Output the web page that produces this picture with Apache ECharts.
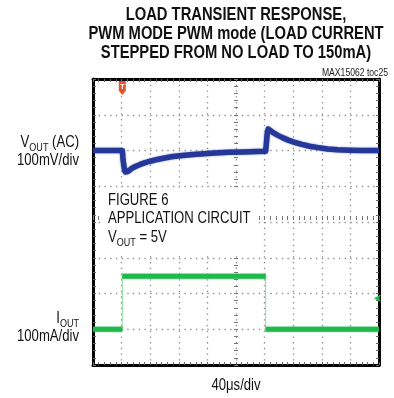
<!DOCTYPE html>
<html>
<head>
<meta charset="utf-8">
<script src="https://cdn.jsdelivr.net/npm/echarts@6/dist/echarts.min.js"></script>
<style>
  html, body { margin: 0; padding: 0; background: #fff; }
  #chart { width: 394px; height: 398px; }
</style>
</head>
<body>
<div id="chart"></div>
<script>
// Time base: 40 us/div, 10 divisions
var timeMin = 0, timeMax = 400, timeStep = 40;

// VOUT (AC coupled), mV vs us
var voutTime = [0, 41, 42, 43.5, 45, 46.5, 48.5, 51, 55, 60, 66, 73, 80, 90, 100, 112, 125, 140, 155, 170, 190, 210, 230, 241.5,
                242.5, 243.5, 245, 248, 252, 258, 265, 273, 282, 292, 303, 315, 328, 342, 358, 375, 400];
var voutMv   = [0, 0, -25, -48, -60, -62, -59, -54, -49, -44, -39, -34, -30, -25, -21, -17, -14, -11, -9, -7, -5, -4, -3, -2,
                20, 45, 60, 56, 50, 43, 36, 29, 23, 17, 12, 8, 4, 2, 1, 0, 0];

// IOUT, mA vs us (load stepped 0 -> 150 mA -> 0)
var ioutTime = [0, 41, 41, 241.5, 241.5, 400];
var ioutMa   = [0, 0, 148, 148, 0, 0];

// Trigger position and IOUT trigger level
var triggerTime = 41;
var ioutTriggerLevel = 87;

// Channel scales (per division) and vertical ranges
var voutRange = [-600, 200];   // 100 mV/div, trace 2 div above center
var ioutRange = [-100, 700];   // 100 mA/div, ground 3 div below center

var titleLines = ['LOAD TRANSIENT RESPONSE,', 'PWM MODE PWM mode (LOAD CURRENT', 'STEPPED FROM NO LOAD TO 150mA)'];

var BLUE = '#25389a';
var GREEN = '#1fb84a';
var GREEN_EDGE = '#8fdc9e';
var FONT = '"Liberation Sans", Arial, sans-serif';
var NARROW_SCALE = 0.82;   // condensed lettering

function pairs(xs, ys) {
  return xs.map(function (x, i) { return [x, ys[i]]; });
}
// Thick band drawn only on the flat levels; the vertical steps stay thin
function levelsOnly(xs, ys) {
  var out = [];
  for (var i = 0; i < xs.length; i++) {
    if (i > 0 && xs[i] === xs[i - 1]) out.push(null);
    out.push([xs[i], ys[i]]);
  }
  return out;
}

var dotted = { color: '#8a8a8a', width: 1.3, type: [1.3, 4.42] };

function frameAxis(extra) {
  return Object.assign({
    type: 'value',
    axisLine: { show: true, onZero: false, lineStyle: { color: '#000', width: 3 } },
    axisTick: { show: true, inside: true, length: 3, lineStyle: { color: '#666', width: 1 } },
    minorTick: { show: true, splitNumber: 5, length: 3, lineStyle: { color: '#666', width: 1 } },
    axisLabel: { show: false },
    splitLine: { show: false }
  }, extra);
}
// Centre graticule lines carry small cross ticks
function centreAxis(extra) {
  return Object.assign({
    type: 'value',
    axisLine: { show: false },
    axisTick: { show: true, inside: true, length: 4, lineStyle: { color: '#777', width: 1 } },
    minorTick: { show: true, splitNumber: 5, length: 4, lineStyle: { color: '#777', width: 1 } },
    axisLabel: { show: false },
    splitLine: { show: false }
  }, extra);
}

var chart = echarts.init(document.getElementById('chart'), null, { renderer: 'canvas' });

var graphics = [];
function text(x, y, str, font, align, extraStyle) {
  graphics.push({
    type: 'text', x: x, y: y, z: 100, scaleX: NARROW_SCALE,
    style: Object.assign({ text: str, fill: '#111', font: font, textAlign: align, textVerticalAlign: 'middle' }, extraStyle || {})
  });
}
titleLines.forEach(function (t, i) {
  text(236, 15 + i * 19, t, 'bold 18px ' + FONT, 'center');
});
text(388, 73, 'MAX15062 toc25', '10.5px ' + FONT, 'right', { fill: '#222' });

var rich = {
  n: { font: '16px ' + FONT, fill: '#111', lineHeight: 20, verticalAlign: 'middle' },
  s: { font: '11px ' + FONT, fill: '#111', lineHeight: 12, verticalAlign: 'bottom' }
};
function label(x, y, str, align) {
  text(x, y, str, '16px ' + FONT, align, { rich: rich });
}
label(79, 143, '{n|V}{s|OUT}{n| (AC)}', 'right');
label(79, 161, '{n|100mV/div}', 'right');
label(79, 319, '{n|I}{s|OUT}', 'right');
label(79, 337, '{n|100mA/div}', 'right');
label(236, 386, '{n|40μs/div}', 'center');

// Note box over the graticule
graphics.push({
  type: 'rect', z: 90,
  shape: { x: 104, y: 188, width: 153, height: 66 },
  style: { fill: '#fff' }
});
label(108, 201, '{n|FIGURE 6}', 'left');
label(108, 219, '{n|APPLICATION CIRCUIT}', 'left');
label(108, 238, '{n|V}{s|OUT}{n| = 5V}', 'left');

chart.setOption({
  animation: false,
  backgroundColor: '#fff',
  grid: { left: 93, top: 79, width: 286, height: 286, containLabel: false },
  xAxis: [
    frameAxis({ position: 'bottom', min: timeMin, max: timeMax, interval: timeStep,
      splitLine: { show: true, lineStyle: dotted } }),
    frameAxis({ position: 'top', min: timeMin, max: timeMax, interval: timeStep }),
    centreAxis({ position: 'bottom', offset: -141, min: timeMin, max: timeMax, interval: timeStep })
  ],
  yAxis: [
    frameAxis({ position: 'left', min: voutRange[0], max: voutRange[1], interval: 100,
      splitLine: { show: true, lineStyle: dotted } }),
    frameAxis({ position: 'right', min: ioutRange[0], max: ioutRange[1], interval: 100 }),
    centreAxis({ position: 'left', offset: -141, min: voutRange[0], max: voutRange[1], interval: 100 })
  ],
  graphic: graphics,
  series: [
    {
      name: 'IOUT edges', type: 'line', xAxisIndex: 0, yAxisIndex: 1,
      data: pairs(ioutTime, ioutMa), symbol: 'none', silent: true, z: 3,
      lineStyle: { color: GREEN_EDGE, width: 1 }
    },
    {
      name: 'IOUT', type: 'line', xAxisIndex: 0, yAxisIndex: 1,
      data: levelsOnly(ioutTime, ioutMa), connectNulls: false, symbol: 'none', silent: true, z: 4,
      lineStyle: { color: GREEN, width: 5, cap: 'butt', shadowColor: 'rgba(31,184,74,0.6)', shadowBlur: 2 },
      markPoint: {
        silent: true, symbol: 'arrow', symbolSize: [6, 7], symbolRotate: 90, symbolOffset: [-5, 0],
        itemStyle: { color: GREEN }, label: { show: false },
        data: [{ coord: [timeMax, ioutTriggerLevel] }]
      }
    },
    {
      name: 'VOUT', type: 'line', xAxisIndex: 0, yAxisIndex: 0,
      data: pairs(voutTime, voutMv), symbol: 'none', silent: true, z: 5,
      lineStyle: { color: BLUE, width: 5.5, join: 'round', shadowColor: 'rgba(37,56,154,0.6)', shadowBlur: 2 },
      markPoint: {
        silent: true,
        symbol: 'path://M0,0 L10,0 L10,14 L5,20 L0,14 Z', symbolSize: [7, 14], symbolOffset: [0, 9],
        itemStyle: { color: '#e8542a' },
        label: { show: true, formatter: 'T', color: '#fff', fontSize: 7, fontWeight: 'bold', offset: [0, -1] },
        data: [{ coord: [triggerTime, voutRange[1]] }]
      }
    }
  ]
});
</script>
</body>
</html>
